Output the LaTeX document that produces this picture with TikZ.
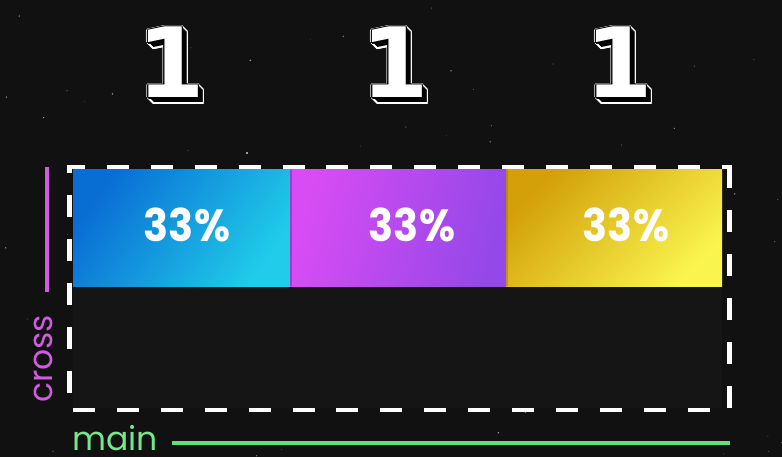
\documentclass[tikz,border=0pt]{standalone}
\usepackage{fontspec}
\setmainfont{Poppins}
\newfontfamily\onefont{DejaVu Sans}
\definecolor{bgc}{HTML}{111111}
\definecolor{innerc}{HTML}{151515}
\definecolor{blueA}{HTML}{0A6DD4}
\definecolor{blueB}{HTML}{20CCE9}
\definecolor{purpA}{HTML}{D84CF4}
\definecolor{purpB}{HTML}{9448E8}
\definecolor{yelA}{HTML}{D3A00A}
\definecolor{yelB}{HTML}{F9F44E}
\definecolor{magc}{HTML}{D25CE0}
\definecolor{grnc}{HTML}{5EE07A}
\definecolor{grntext}{HTML}{78E68C}
\begin{document}
\begin{tikzpicture}[x=1pt,y=-1pt,
  dashline/.style={draw=white, line width=4.5pt, dash pattern=on 22pt off 21.9pt},
  pct/.style={font=\bfseries\fontsize{45}{45}\selectfont, text=white, anchor=base, inner sep=0pt, xscale=0.92},
  onebase/.style={font=\onefont\bfseries\fontsize{97}{97}\selectfont, anchor=base, inner sep=0pt},
  label/.style={font=\fontsize{33}{33}\selectfont, inner sep=0pt}]
\useasboundingbox (0,0) rectangle (782,457);
\fill[bgc] (0,0) rectangle (782,457);
% stars
\pgfmathsetseed{42}
\foreach \i in {1,...,70}{
  \pgfmathsetmacro\sx{rnd*782}
  \pgfmathsetmacro\sy{rnd*457}
  \pgfmathsetmacro\sr{0.35+rnd*0.55}
  \pgfmathsetmacro\so{0.25+rnd*0.45}
  \fill[white,opacity=\so] (\sx,\sy) circle (\sr);
}
\fill[white,opacity=0.8] (247,153) circle (1.2);
% inner dark area
\fill[innerc] (73,170) rectangle (722,408);
% bar segments
\shade[top color=blueA, bottom color=blueB, shading angle=55] (73,170) rectangle (290,286);
\shade[top color=purpA, bottom color=purpB, shading angle=75] (290,170) rectangle (506,286);
\shade[top color=yelA, bottom color=yelB, shading angle=45] (506,170) rectangle (722,286);
\draw[purpB!70!black, line width=2pt, opacity=0.5] (291,170) -- (291,286);
\draw[yelA!75!black, line width=2pt, opacity=0.5] (507,170) -- (507,286);
% percentages
\node[pct] (p1) at (187,242) {33\%};
\node[pct] (p2) at (412,242) {33\%};
\node[pct] (p3) at (626,242) {33\%};
% dashed frame
\draw[dashline, dash phase=4.25pt] (67.25,167) -- (731.75,167);
\draw[dashline, dash phase=42.15pt] (729.5,164.75) -- (729.5,412.25);
\draw[dashline, dash phase=38.15pt] (67.25,410) -- (725,410);
\draw[dashline, dash phase=13.75pt] (69.5,164.75) -- (69.5,412.25);
% axes
\draw[magc, line width=4pt] (47,167) -- (47,292);
\node[label, text=magc, rotate=90] (cross) at (43,359) {cross};
\node[label, text=grntext, anchor=base west] (main) at (72,450) {main};
\draw[grnc, line width=4pt] (172,443) -- (730,443);
% 3D ones
\foreach \k/\cx in {1/171,2/395,3/619}{
  \foreach \t in {0,1,...,5}{
    \foreach \a in {0,45,...,315}{
      \node[onebase, text=white] (w\k-\t-\a) at ({\cx+\t+1.7*cos(\a)},{98+\t+1.7*sin(\a)}) {1};
    }
  }
  \foreach \t in {0,1,...,5}{
    \node[onebase, text=black] (b\k-\t) at ({\cx+\t},{98+\t}) {1};
  }
  \foreach \a in {0,45,...,315}{
    \node[onebase, text=black] (e\k-\a) at ({\cx+1.1*cos(\a)},{98+1.1*sin(\a)}) {1};
  }
  \node[onebase, text=white] (one\k) at (\cx,98) {1};
}
\end{tikzpicture}
\end{document}
